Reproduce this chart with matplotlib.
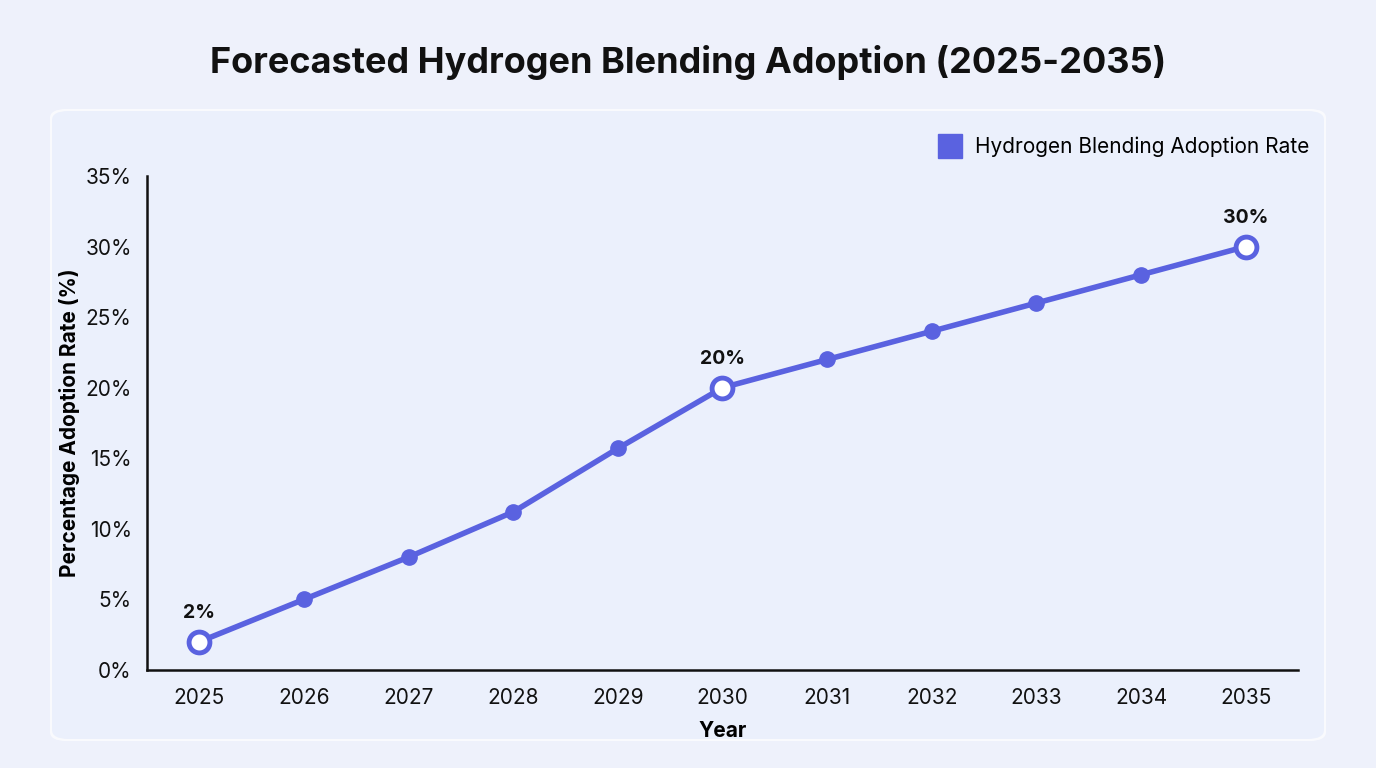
import matplotlib.pyplot as plt
from matplotlib.patches import FancyBboxPatch
from matplotlib.lines import Line2D

years = [2025, 2026, 2027, 2028, 2029, 2030, 2031, 2032, 2033, 2034, 2035]
adoption = [2, 5, 8, 11.2, 15.7, 20, 22, 24, 26, 28, 30]
highlight_years = [2025, 2030, 2035]
series_name = 'Hydrogen Blending Adoption Rate'

line_color = '#5a62e0'
plt.rcParams['font.family'] = ['Inter', 'DejaVu Sans']

fig = plt.figure(figsize=(13.76, 7.68), dpi=100)
fig.patch.set_facecolor('#eef1fb')

# card behind the plot
shadow = FancyBboxPatch((50 / 1376, 1 - 741 / 768), 1276 / 1376, 632 / 768,
                        boxstyle='round,pad=0,rounding_size=0.012',
                        transform=fig.transFigure, facecolor='#ffffff',
                        edgecolor='none', alpha=0.7, zorder=-2)
card = FancyBboxPatch((52 / 1376, 1 - 739 / 768), 1272 / 1376, 628 / 768,
                      boxstyle='round,pad=0,rounding_size=0.012',
                      transform=fig.transFigure, facecolor='#ebf0fc',
                      edgecolor='none', zorder=-1)
fig.patches.extend([shadow, card])

ax = fig.add_axes([147 / 1376, 1 - 670 / 768, (1298 - 147) / 1376, (670 - 176) / 768])
ax.set_zorder(2)
ax.set_facecolor('none')

ax.plot(years, adoption, color=line_color, linewidth=4, marker='o',
        markersize=11, markerfacecolor=line_color, markeredgecolor=line_color,
        solid_capstyle='round', zorder=3, clip_on=False)

for yr, val in zip(years, adoption):
    if yr in highlight_years:
        ax.plot([yr], [val], marker='o', markersize=15, markerfacecolor='white',
                markeredgecolor=line_color, markeredgewidth=3.5, zorder=4, clip_on=False)
        ax.annotate(f'{val:g}%', (yr, val), xytext=(0, 14), textcoords='offset points',
                    ha='center', va='bottom', fontsize=14, fontweight='bold',
                    color='#111111')

ax.set_xlim(2024.5, 2035.5)
ax.set_ylim(0, 35)
ax.set_xticks(years)
ax.set_xticklabels([str(y) for y in years])
ax.set_yticks(range(0, 36, 5))
ax.set_yticklabels([f'{v}%' for v in range(0, 36, 5)])
ax.tick_params(axis='both', length=0, labelsize=15, colors='#111111')
ax.tick_params(axis='x', pad=13)
ax.tick_params(axis='y', pad=11)

for s in ['top', 'right']:
    ax.spines[s].set_visible(False)
for s in ['left', 'bottom']:
    ax.spines[s].set_color('#111111')
    ax.spines[s].set_linewidth(1.8)

ax.set_xlabel('Year', fontsize=15, fontweight='bold', labelpad=9)
ax.set_ylabel('Percentage Adoption Rate (%)', fontsize=15, fontweight='bold', labelpad=4)

handle = Line2D([], [], marker='s', linestyle='none', markersize=17,
                markerfacecolor=line_color, markeredgecolor=line_color)
fig.legend([handle], [series_name], loc='upper right',
           bbox_to_anchor=(1318 / 1376, 1 - 128 / 768), frameon=False,
           fontsize=15, handletextpad=0.2, borderaxespad=0)

fig.text(0.5, 1 - 62 / 768, 'Forecasted Hydrogen Blending Adoption (2025-2035)',
         ha='center', va='center', fontsize=26, fontweight='bold', color='#111111')

fig.savefig('out.png', dpi=100, facecolor=fig.get_facecolor())
